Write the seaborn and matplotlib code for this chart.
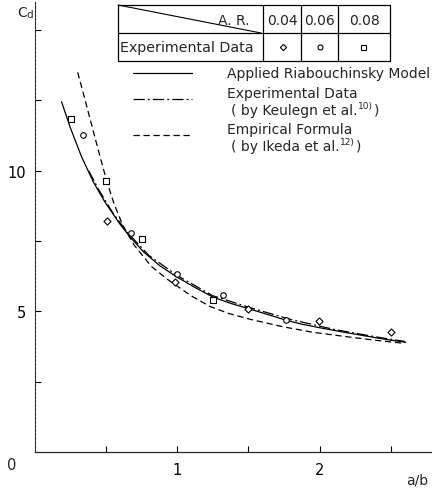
import numpy as np
import pandas as pd
import matplotlib
matplotlib.use("Agg")
import matplotlib.pyplot as plt
import seaborn as sns

# ---------------- data ----------------
# Applied Riabouchinsky Model (solid)
riab_x = [0.19, 0.25, 0.33, 0.413, 0.495, 0.6, 0.67, 0.764, 0.88, 1.0, 1.13, 1.255,
          1.38, 1.5, 1.63, 1.763, 1.88, 2.0, 2.17, 2.33, 2.47, 2.605]
riab_y = [12.45, 11.55, 10.5, 9.6, 8.88, 8.1, 7.65, 7.12, 6.62, 6.22, 5.84, 5.5,
          5.28, 5.1, 4.9, 4.69, 4.54, 4.42, 4.26, 4.12, 4.0, 3.9]
# Experimental data by Keulegan (dash-dot)
keul_x = [0.38, 0.45, 0.55, 0.65, 0.8, 1.0, 1.25, 1.5, 1.8, 2.1, 2.4, 2.6]
keul_y = [10.0, 9.33, 8.5, 7.82, 7.0, 6.28, 5.56, 5.15, 4.71, 4.36, 4.09, 3.93]
# Empirical formula by Ikeda (dashed)
ikeda_x = [0.303, 0.36, 0.414, 0.46, 0.51, 0.56, 0.62, 0.7, 0.82, 0.93, 1.1, 1.23,
           1.36, 1.512, 1.746, 1.95, 2.144, 2.38, 2.6]
ikeda_y = [13.5, 12.42, 11.38, 10.5, 9.58, 8.8, 8.05, 7.35, 6.6, 6.15, 5.55, 5.18,
           4.93, 4.72, 4.45, 4.26, 4.13, 3.98, 3.86]
# Experimental data points by aspect ratio
ar004_x = [0.507, 0.986, 1.5, 1.997, 2.5]
ar004_y = [8.23, 6.06, 5.08, 4.65, 4.28]
ar006_x = [0.343, 0.677, 1.0, 1.32, 1.763]
ar006_y = [11.26, 7.78, 6.33, 5.58, 4.70]
ar008_x = [0.254, 0.50, 0.752, 1.255]
ar008_y = [11.83, 9.62, 7.58, 5.41]

ar_labels = ["0.04", "0.06", "0.08"]
x_ticks = [1, 2]
y_ticks = [5, 10]

# ---------------- figure ----------------
sns.set_style("ticks")
plt.rcParams["font.family"] = ["DejaVu Sans"]
W, H = 432, 489
fig = plt.figure(figsize=(W / 100, H / 100), dpi=100)
ax = fig.add_axes([34.5 / W, 36 / H, (W - 34.5) / W, 450 / H])
ax.set_xlim(0, (W - 34.5) / 142.5)
ax.set_ylim(0, 16.0)

lw = 0.9
DASHDOT = (0, (9, 2.5, 1.5, 2.5))
DASHED = (0, (5, 3))
sns.lineplot(x=riab_x, y=riab_y, ax=ax, color="black", lw=lw, estimator=None)
sns.lineplot(x=keul_x, y=keul_y, ax=ax, color="black", lw=lw, estimator=None,
             linestyle=DASHDOT)
sns.lineplot(x=ikeda_x, y=ikeda_y, ax=ax, color="black", lw=lw, estimator=None,
             linestyle=DASHED)

for xs, ys, mk, s in [(ar004_x, ar004_y, "D", 13), (ar006_x, ar006_y, "o", 16),
                      (ar008_x, ar008_y, "s", 16)]:
    sns.scatterplot(x=xs, y=ys, ax=ax, marker=mk, s=s, color="white",
                    edgecolor="black", linewidth=0.8, zorder=3)

for side in ["top", "right"]:
    ax.spines[side].set_visible(False)
ax.spines["left"].set_linestyle((0, (2.5, 1.2)))
ax.spines["left"].set_linewidth(0.8)
ax.spines["bottom"].set_linewidth(0.9)

ax.set_xticks(x_ticks)
ax.set_xticks([0.5, 1.5, 2.5], minor=True)
ax.set_yticks(y_ticks)
ax.set_yticks([2.5, 7.5, 12.5, 15], minor=True)
ax.tick_params(axis="both", which="both", direction="in", length=4, width=0.8,
               labelsize=10.5, colors="black")
ax.tick_params(axis="y", pad=6)
ax.tick_params(axis="x", pad=7)
ax.set_xlabel("")
ax.set_ylabel("")

# ---------------- overlay in pixel coordinates ----------------
ov = fig.add_axes([0, 0, 1, 1], facecolor="none")
ov.set_xlim(0, W)
ov.set_ylim(H, 0)
ov.axis("off")

fs = 10
ov.text(12, 465, "0", ha="center", va="center", fontsize=10.5)
ov.text(417, 481, "a/b", ha="center", va="center", fontsize=10)
ov.text(17, 13, "C", ha="left", va="center", fontsize=10)
ov.text(26.5, 15, "d", ha="left", va="center", fontsize=7.5)

# table
tk = dict(color="black", lw=0.9)
ov.plot([118, 390, 390, 118, 118], [6, 6, 62, 62, 6], **tk)
ov.plot([118, 390], [34, 34], **tk)
for xv in [263, 301, 338]:
    ov.plot([xv, xv], [6, 62], **tk)
ov.plot([118, 261], [6, 34], color="black", lw=0.8)
ov.text(250, 21, "A. R.", ha="right", va="center", fontsize=fs)
for cx, lab in zip([282, 319.5, 364], ar_labels):
    ov.text(cx, 21, lab, ha="center", va="center", fontsize=fs)
ov.text(120, 48, "Experimental Data", ha="left", va="center", fontsize=10.3)
ov.plot([283], [48], marker="D", ms=3.2, mfc="white", mec="black", mew=0.8)
ov.plot([320], [48], marker="o", ms=3.6, mfc="white", mec="black", mew=0.8)
ov.plot([363], [48], marker="s", ms=3.6, mfc="white", mec="black", mew=0.8)

# legend
ov.plot([133, 192], [74, 74], color="black", lw=lw)
ov.plot([133, 192], [100, 100], color="black", lw=lw, linestyle=DASHDOT)
ov.plot([133, 192], [136, 136], color="black", lw=lw, linestyle=DASHED)
ov.text(227, 74, "Applied Riabouchinsky Model", ha="left", va="center", fontsize=fs)
ov.text(227, 94, "Experimental Data", ha="left", va="center", fontsize=fs)
ov.text(227, 130, "Empirical Formula", ha="left", va="center", fontsize=fs)

fig.canvas.draw()
renderer = fig.canvas.get_renderer()


def cite(x, y, pre, sup):
    t1 = ov.text(x, y, pre, ha="left", va="center", fontsize=fs)
    bb = t1.get_window_extent(renderer)
    x2 = ov.transData.inverted().transform((bb.x1, 0))[0] + 0.5
    t2 = ov.text(x2, y - 5, sup, ha="left", va="center", fontsize=6.5)
    bb2 = t2.get_window_extent(renderer)
    x3 = ov.transData.inverted().transform((bb2.x1, 0))[0] + 1
    ov.text(x3, y, ")", ha="left", va="center", fontsize=fs)


cite(231, 111, "( by Keulegn et al.", "10)")
cite(231, 147, "( by Ikeda et al.", "12)")

fig.savefig("out.png", dpi=100)
